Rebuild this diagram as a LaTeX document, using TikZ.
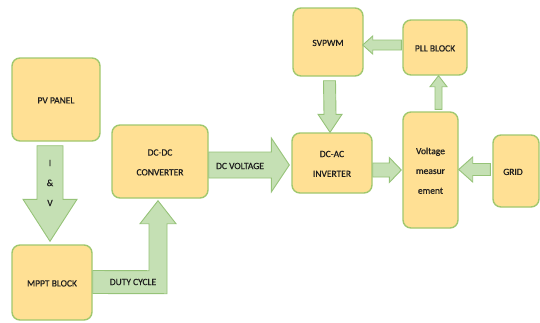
\documentclass[tikz,border=0pt]{standalone}
\usepackage{fontspec}
\setmainfont{Carlito}[FakeBold=0.6]
\usetikzlibrary{calc}
\definecolor{boxfill}{HTML}{FFE094}
\definecolor{boxline}{HTML}{A0C86E}
\definecolor{arrfill}{HTML}{C5E0B4}
\definecolor{arrline}{HTML}{96C378}
\definecolor{txt}{HTML}{1E1E1E}
\newcommand\btext[2]{\raisebox{#1}{\renewcommand\arraystretch{1.65}\begin{tabular}{@{}c@{}}#2\end{tabular}}}
\newcommand\varrow[5]{\draw[blockarrow] ($(#1)+(-#3,0)$) -- ($(#1)+(#3,0)$) -- ($(#2)+(#3,#5)$) -- ($(#2)+(#4,#5)$) -- (#2) -- ($(#2)+(-#4,#5)$) -- ($(#2)+(-#3,#5)$) -- cycle;}
\newcommand\harrow[5]{\draw[blockarrow] ($(#1)+(0,-#3)$) -- ($(#1)+(0,#3)$) -- ($(#2)+(#5,#3)$) -- ($(#2)+(#5,#4)$) -- (#2) -- ($(#2)+(#5,-#4)$) -- ($(#2)+(#5,-#3)$) -- cycle;}
\tikzset{
  block/.style={draw=boxline, line width=1.4pt, fill=boxfill, rounded corners=8pt,
    inner sep=0pt, text=txt, font=\fontsize{9.5}{12}\selectfont},
  blockarrow/.style={draw=arrline, line width=0.9pt, fill=arrfill, line join=miter},
  lbl/.style={text=txt, font=\fontsize{9.5}{12}\selectfont, inner sep=0pt}
}
\begin{document}
\begin{tikzpicture}[x=1pt,y=-1pt]
\clip (0,0) rectangle (540,322);
\fill[white] (0,0) rectangle (540,322);
% blocks
\node[block, minimum width=88pt, minimum height=83pt] (pv) at (56,99.5) {\btext{6pt}{PV PANEL}};
\node[block, minimum width=80pt, minimum height=75pt] (mppt) at (52,282.5) {\btext{2pt}{MPPT BLOCK}};
\node[block, minimum width=96pt, minimum height=73pt] (dcdc) at (160,161.5) {\btext{4pt}{DC-DC\\CONVERTER}};
\node[block, minimum width=80pt, minimum height=60pt] (dcac) at (332,163) {\btext{0pt}{DC-AC\\INVERTER}};
\node[block, minimum width=70pt, minimum height=68pt] (svpwm) at (328,42) {\btext{4pt}{SVPWM}};
\node[block, minimum width=64pt, minimum height=55pt] (pll) at (435,47.5) {\btext{5pt}{PLL BLOCK}};
\node[block, minimum width=55pt, minimum height=116pt] (vm) at (430.5,170) {\btext{6pt}{Voltage\\measur\\ement}};
\node[block, minimum width=46pt, minimum height=72pt] (grid) at (516,171) {\btext{4pt}{\hspace*{-6pt}GRID}};
% block arrows
\varrow{$(pv.south)+(-6,4)$}{$(mppt.north)+(-2,-3)$}{13}{27}{-42}
\node[lbl, align=center, font=\fontsize{9.5}{20}\selectfont] (iv) at (50,183) {I\\\&\\V};
\coordinate (dtip) at ($(dcdc.south)+(-2,2)$);
\draw[blockarrow] ($(mppt.east)+(0,-12)$) -- ($(dtip)+(-9,70)$) -- ($(dtip)+(-9,23)$) -- ($(dtip)+(-18,23)$) -- (dtip) -- ($(dtip)+(18,23)$) -- ($(dtip)+(9,23)$) -- ($(dtip)+(9,93)$) -- ($(mppt.east)+(0,11)$) -- cycle;
\node[lbl] (duty) at (133,282) {DUTY CYCLE};
\harrow{$(dcdc.east)+(0,3.5)$}{$(dcac.west)+(-2,2)$}{13}{27}{-18}
\node[lbl] (dcv) at (240,166) {DC VOLTAGE};
\varrow{$(svpwm.south)+(1.5,4)$}{$(dcac.north)+(-2,0)$}{6}{12}{-18}
\harrow{$(pll.west)+(-1,-2.5)$}{$(svpwm.east)+(-1,3)$}{5}{9}{10}
\varrow{$(vm.north)+(8,-2)$}{$(pll.south)+(3.5,0)$}{3.5}{8.5}{11}
\harrow{$(dcac.east)+(0,7)$}{$(vm.west)+(-1,0)$}{7}{12.5}{-12}
\harrow{$(grid.west)+(-2,-1.5)$}{$(vm.east)+(0,-0.5)$}{6}{12.5}{14}
\end{tikzpicture}
\end{document}
